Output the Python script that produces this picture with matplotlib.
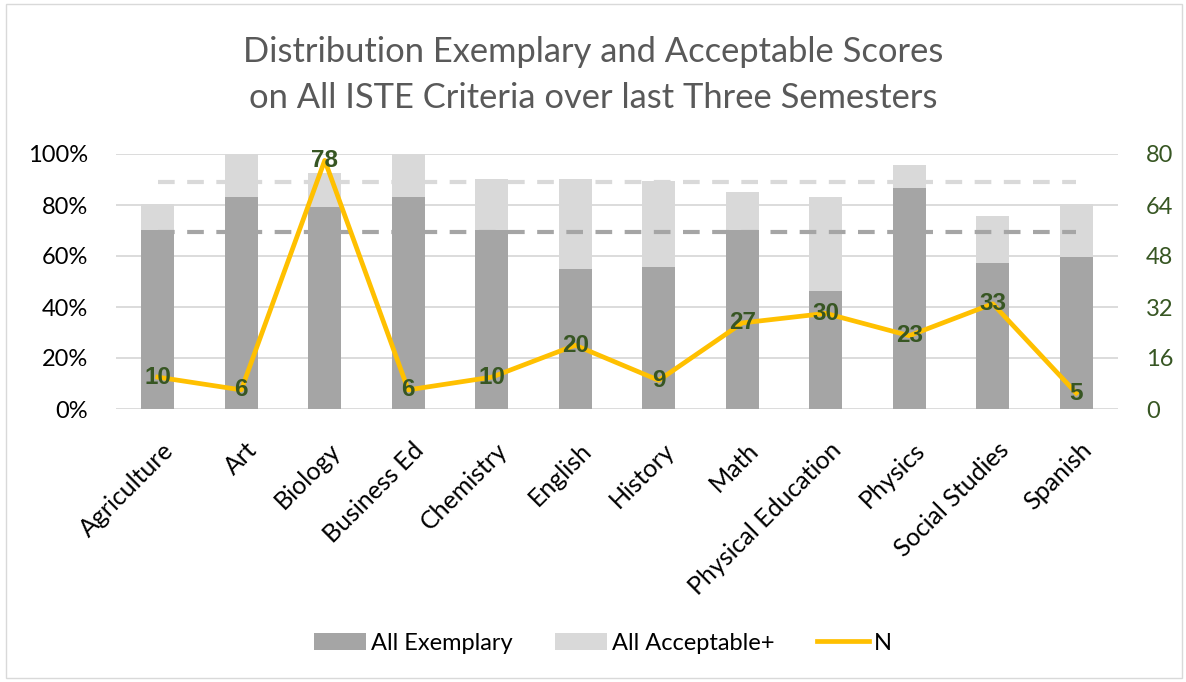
import numpy as np
import matplotlib.pyplot as plt
from matplotlib.patches import Rectangle
from matplotlib.transforms import ScaledTranslation

plt.rcParams['font.family'] = ['Lato', 'DejaVu Sans']

# data
subjects = ['Agriculture', 'Art', 'Biology', 'Business Ed', 'Chemistry', 'English',
            'History', 'Math', 'Physical Education', 'Physics', 'Social Studies', 'Spanish']
exemplary = [70, 83.3, 79.4, 83.3, 70, 55, 55.5, 70.2, 46.3, 86.7, 57.3, 59.8]
acceptable = [80.3, 100, 92.4, 100, 90, 90, 89.5, 85.1, 83.2, 95.7, 75.7, 80.3]
n_counts = [10, 6, 78, 6, 10, 20, 9, 27, 30, 23, 33, 5]
target_acceptable = 89.1
target_exemplary = 69.3

green = '#375623'
fs = 17
x = np.arange(len(subjects))

fig = plt.figure(figsize=(11.86, 6.82), dpi=100)
ax = fig.add_axes([116/1186, 1 - 409/682, (1118-116)/1186, (409-154)/682])
ax2 = ax.twinx()

ax.bar(x, acceptable, width=0.39, color='#D9D9D9', zorder=2, label='All Acceptable+')
ax.bar(x, exemplary, width=0.39, color='#A5A5A5', zorder=3, label='All Exemplary')
ax.plot([x[0], x[-1]], [target_acceptable]*2, color='#D9D9D9', lw=3, ls=(0, (4, 3)), zorder=4)
ax.plot([x[0], x[-1]], [target_exemplary]*2, color='#A5A5A5', lw=3, ls=(0, (4, 3)), zorder=4)

ax.set_ylim(0, 100)
ax.set_xlim(-0.5, len(subjects) - 0.5)
ax.set_yticks(range(0, 101, 20))
ax.set_yticklabels([f'{v}%' for v in range(0, 101, 20)], fontsize=fs, color='#000000')
ax.yaxis.grid(True, color='#D9D9D9', lw=1.3, zorder=0)
ax.set_axisbelow(True)
ax.set_xticks(x)
ax.set_xticklabels(subjects, rotation=45, ha='right', va='center', rotation_mode='anchor', fontsize=18)
ax.tick_params(axis='y', length=0, pad=20)
ax.tick_params(axis='x', length=0, pad=27)
shift = ScaledTranslation(12/100, 0, fig.dpi_scale_trans)
for lab in ax.get_xticklabels():
    lab.set_transform(lab.get_transform() + shift)
for s in ax.spines.values():
    s.set_visible(False)

ax2.plot(x, n_counts, color='#FFC000', lw=3.4, zorder=5, label='N')
for xi, v in zip(x, n_counts):
    ax2.text(xi, v, str(v), ha='center', va='center', fontsize=17.5, fontweight='bold',
             family=['Liberation Sans', 'DejaVu Sans'], color=green, zorder=6)
ax2.set_ylim(0, 80)
ax2.set_yticks(range(0, 81, 16))
ax2.tick_params(axis='y', length=0, labelsize=fs, labelcolor=green, pad=20)
for s in ax2.spines.values():
    s.set_visible(False)
ax.set_zorder(1)
ax2.set_zorder(2)
ax2.patch.set_visible(False)

fig.text(0.5, 1 - 52/682, 'Distribution Exemplary and Acceptable Scores', ha='center',
         va='center', fontsize=24.8, color='#595959')
fig.text(0.5, 1 - 98/682, 'on All ISTE Criteria over last Three Semesters', ha='center',
         va='center', fontsize=24.8, color='#595959')

h1, l1 = ax.get_legend_handles_labels()
h2, l2 = ax2.get_legend_handles_labels()
fig.legend([h1[1], h1[0], h2[0]], [l1[1], l1[0], l2[0]], loc='center',
           bbox_to_anchor=(603/1186, 1 - 643/682), ncol=3, frameon=False, fontsize=fs,
           handlelength=2.2, handleheight=0.7, columnspacing=1.8, handletextpad=0.2)

fig.patches.append(Rectangle((6/1186, 4/682), 1 - 10/1186, 1 - 8/682, transform=fig.transFigure,
                             fill=False, edgecolor='#D9D9D9', lw=1))

fig.savefig('out.png', dpi=100)
